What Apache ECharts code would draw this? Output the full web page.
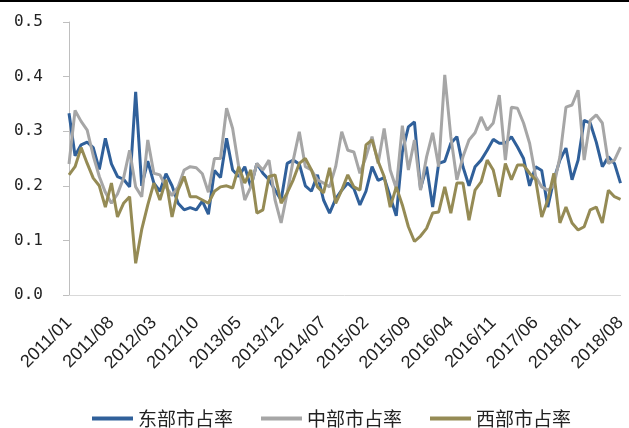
<!DOCTYPE html>
<html>
<head>
<meta charset="utf-8">
<script src="https://cdn.jsdelivr.net/npm/echarts@6/dist/echarts.min.js"></script>
<style>
html,body{margin:0;padding:0;background:#fff;}
#c{width:629px;height:428px;}
</style>
</head>
<body>
<div id="c"></div>
<script>
// Monthly categories 2011/01 .. 2018/08
var categories = [];
for (var y = 2011; y <= 2018; y++) {
  for (var m = 1; m <= 12; m++) {
    if (y === 2018 && m > 8) break;
    categories.push(y + '/' + (m < 10 ? '0' + m : m));
  }
}
var yTicks = [0, 0.1, 0.2, 0.3, 0.4, 0.5];

var east = [0.333,0.255,0.275,0.28,0.27,0.23,0.287,0.24,0.217,0.212,0.198,0.372,0.2,0.245,0.205,0.19,0.222,0.2,0.168,0.156,
0.16,0.156,0.172,0.148,0.228,0.215,0.287,0.229,0.217,0.235,0.198,0.241,0.223,0.211,0.192,0.174,0.241,0.247,0.24,0.2,
0.19,0.22,0.174,0.15,0.176,0.192,0.205,0.195,0.165,0.19,0.235,0.21,0.215,0.18,0.145,0.262,0.308,0.317,0.195,0.235,
0.161,0.241,0.245,0.278,0.29,0.235,0.2,0.235,0.247,0.265,0.285,0.278,0.278,0.29,0.271,0.25,0.2,0.235,0.228,0.161,
0.211,0.247,0.269,0.211,0.247,0.32,0.315,0.28,0.235,0.253,0.241,0.205];

var central = [0.24,0.338,0.318,0.302,0.255,0.217,0.188,0.168,0.185,0.214,0.265,0.198,0.18,0.284,0.223,0.22,0.198,0.182,0.198,0.229,
0.235,0.233,0.222,0.188,0.25,0.25,0.342,0.305,0.235,0.174,0.198,0.241,0.229,0.247,0.174,0.132,0.187,0.247,0.299,0.235,
0.229,0.211,0.205,0.198,0.235,0.299,0.265,0.262,0.223,0.253,0.29,0.241,0.305,0.229,0.195,0.31,0.229,0.284,0.192,0.253,
0.297,0.235,0.403,0.29,0.211,0.253,0.284,0.297,0.326,0.302,0.315,0.366,0.247,0.344,0.342,0.315,0.278,0.217,0.198,0.192,
0.2,0.253,0.344,0.348,0.375,0.247,0.32,0.33,0.315,0.241,0.247,0.271];

var west = [0.22,0.235,0.27,0.241,0.214,0.2,0.161,0.205,0.143,0.168,0.18,0.058,0.12,0.165,0.205,0.174,0.211,0.143,0.192,0.217,
0.18,0.18,0.174,0.168,0.19,0.198,0.2,0.196,0.235,0.205,0.229,0.15,0.156,0.217,0.22,0.168,0.187,0.211,0.241,0.25,
0.229,0.198,0.187,0.233,0.168,0.192,0.22,0.198,0.192,0.275,0.284,0.245,0.217,0.161,0.198,0.165,0.125,0.098,0.108,0.122,
0.15,0.152,0.198,0.15,0.205,0.205,0.137,0.192,0.207,0.247,0.229,0.18,0.241,0.211,0.238,0.238,0.223,0.211,0.143,0.174,
0.223,0.132,0.161,0.132,0.119,0.125,0.156,0.161,0.132,0.192,0.18,0.175];

var seriesNames = ['东部市占率', '中部市占率', '西部市占率'];
var colors = ['#30609a', '#a6a6a6', '#958b55'];

var chart = echarts.init(document.getElementById('c'), null, {renderer: 'canvas'});
var font = '"Noto Sans CJK SC", "Noto Sans", sans-serif';
function mk(name, data, color) {
  return {
    name: name, type: 'line', data: data, symbol: 'none',
    lineStyle: {width: 3, color: color}, itemStyle: {color: color},
    emphasis: {disabled: true}
  };
}
chart.setOption({
  animation: false,
  color: colors,
  graphic: [{type: 'rect', left: 0, top: 0, shape: {width: 629, height: 2}, style: {fill: '#000'}}],
  grid: {left: 69, right: 0, top: 22, bottom: 133, containLabel: false},
  legend: {
    bottom: 0, left: 92, padding: 0, itemWidth: 41, itemHeight: 4, itemGap: 28, icon: 'rect',
    textStyle: {fontFamily: font, fontSize: 19, color: '#222'},
    data: seriesNames
  },
  xAxis: {
    type: 'category', data: categories, boundaryGap: false,
    axisLine: {lineStyle: {color: '#d9d9d9', width: 1}},
    axisTick: {show: false},
    axisLabel: {interval: 6, rotate: 45, fontSize: 18, color: '#222', margin: 25, fontFamily: '"Liberation Sans", Arial, sans-serif'},
    splitLine: {show: false}
  },
  yAxis: {
    type: 'value', min: yTicks[0], max: yTicks[yTicks.length - 1], interval: 0.1,
    axisLine: {show: true, lineStyle: {color: '#bfbfbf'}},
    axisTick: {show: true, inside: false, length: 6, lineStyle: {color: '#bfbfbf'}},
    axisLabel: {fontSize: 16, color: '#222', margin: 26, fontFamily: '"DejaVu Sans Mono", monospace',
      formatter: function (v) { return v.toFixed(1); }},
    splitLine: {show: false}
  },
  series: [mk(seriesNames[0], east, colors[0]), mk(seriesNames[1], central, colors[1]), mk(seriesNames[2], west, colors[2])]
});
</script>
</body>
</html>
